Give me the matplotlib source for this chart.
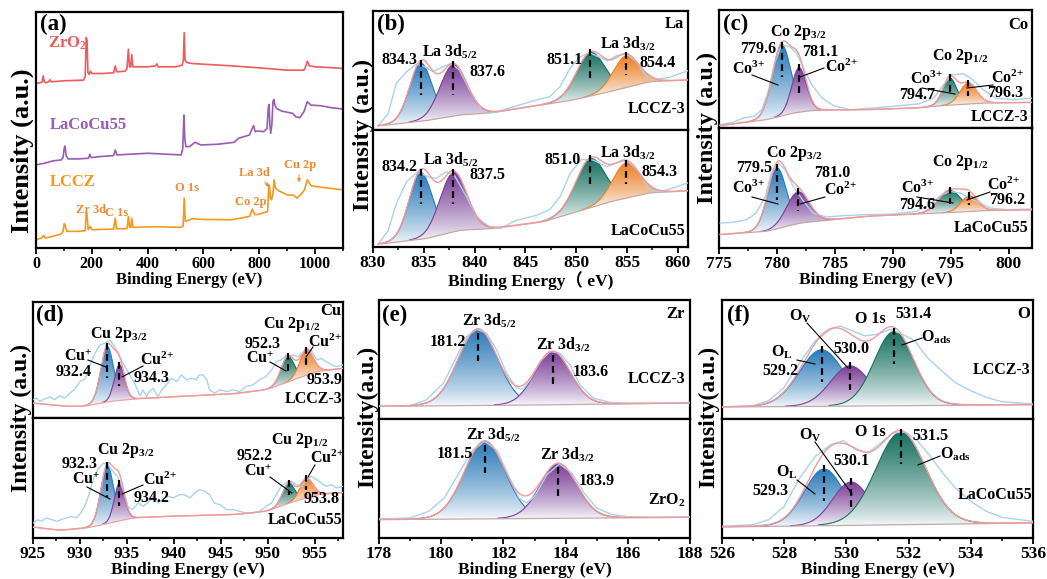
import numpy as np
import matplotlib
matplotlib.use('Agg')
import matplotlib.pyplot as plt
from matplotlib.colors import to_rgb
from matplotlib.patches import PathPatch, FancyArrowPatch
from matplotlib.path import Path
from matplotlib.lines import Line2D
from matplotlib.ticker import MultipleLocator

plt.rcParams['font.family'] = ['Liberation Serif', 'Noto Sans CJK SC', 'DejaVu Sans']
plt.rcParams['font.weight'] = 'bold'
plt.rcParams['mathtext.fontset'] = 'custom'
plt.rcParams['mathtext.rm'] = 'Liberation Serif:bold'
plt.rcParams['mathtext.it'] = 'Liberation Serif:italic:bold'
plt.rcParams['mathtext.bf'] = 'Liberation Serif:bold'

# ---------------- (a) survey data ----------------
a_x_zro2 = [0, 15, 22, 26, 30, 35, 45, 50, 55, 100, 170, 176, 180, 183, 186, 190, 195, 200, 240, 278,
            284, 289, 320, 326, 331, 335, 339, 343, 347, 400, 428, 433, 438, 500, 524, 528, 531, 534, 540, 560,
            600, 700, 800, 900, 960, 966, 972, 980, 1000, 1050, 1100]
a_y_zro2 = [495, 497, 500, 518, 500, 497, 500, 506, 500, 503, 505, 515, 633, 625, 528, 522, 532, 525, 525, 527,
            548, 530, 532, 540, 598, 545, 545, 582, 545, 545, 548, 554, 545, 545, 550, 565, 648, 565, 558, 555,
            553, 548, 542, 535, 535, 545, 562, 548, 545, 543, 540]
a_x_lacocu = [0, 30, 60, 90, 97, 101, 104, 108, 115, 150, 188, 193, 198, 230, 278, 284, 290, 400, 520, 526,
              530, 533, 537, 550, 570, 590, 650, 710, 725, 765, 775, 780, 785, 795, 815, 828, 832, 835, 838, 841,
              845, 849, 852, 856, 862, 880, 920, 930, 945, 960, 972, 985, 1020, 1060, 1100]
a_y_lacocu = [250, 255, 262, 265, 272, 300, 307, 278, 268, 268, 270, 282, 272, 275, 278, 295, 280, 285, 280, 300,
              400, 330, 305, 305, 318, 310, 312, 318, 330, 340, 360, 368, 350, 352, 350, 360, 420, 432, 370, 345,
              370, 440, 447, 430, 420, 412, 405, 395, 392, 410, 440, 430, 428, 422, 418]
a_x_lccz = [0, 20, 28, 33, 60, 90, 97, 101, 104, 110, 150, 176, 180, 183, 187, 195, 200, 278, 284, 289,
            326, 331, 335, 339, 343, 347, 430, 520, 527, 531, 535, 560, 600, 700, 720, 765, 775, 779, 785, 800,
            830, 834, 837, 840, 844, 849, 853, 858, 870, 900, 925, 935, 950, 962, 972, 985, 1000, 1050, 1100]
a_y_lccz = [25, 30, 38, 30, 35, 42, 50, 73, 70, 50, 50, 52, 105, 100, 55, 65, 55, 57, 90, 58,
            58, 95, 62, 62, 90, 62, 64, 62, 66, 150, 80, 88, 86, 85, 88, 95, 117, 108, 100, 102,
            110, 190, 185, 150, 145, 165, 205, 180, 172, 160, 158, 150, 162, 175, 205, 188, 185, 180, 175]

# ---------------- (b) La 3d ----------------
b1_bg_x = [830.5, 835.2, 838.5, 841.8, 845.1, 849.7, 853.3, 857.2, 861.0]
b1_bg_y = [12, 28, 45, 52, 68, 90, 115, 145, 150]
b1_pk_c = [834.7, 837.9, 851.4, 854.9]
b1_pk_h = [174, 154, 130, 95]
b1_pk_w = [2.6, 3.1, 3.3, 3.0]
b1_raw_x = [830.5, 831.5, 832.3, 833.3, 834.3, 835.1, 835.9, 836.9, 837.7, 838.5, 839.5, 840.5, 841.8, 842.8,
            844.4, 846.1, 847.4, 848.4, 849.4, 850.3, 851.3, 852.3, 853.1, 853.9, 854.9, 855.9, 856.9, 857.9,
            859.2, 861.0]
b1_raw_y = [12, 50, 140, 175, 198, 190, 175, 190, 200, 180, 120, 70, 52, 60, 75, 90, 100, 130, 185, 218,
            232, 218, 208, 222, 230, 205, 162, 152, 158, 178]
b2_bg_x = [830.5, 835.2, 838.5, 841.8, 846.7, 850.0, 853.3, 857.2, 861.0]
b2_bg_y = [8, 25, 50, 55, 75, 105, 135, 162, 168]
b2_pk_c = [834.7, 837.9, 851.4, 854.9]
b2_pk_h = [199, 177, 146, 105]
b2_pk_w = [2.7, 3.1, 3.4, 3.1]
b2_raw_x = [830.5, 831.5, 832.3, 833.3, 834.4, 835.4, 836.2, 837.2, 838.0, 839.2, 840.2, 841.5, 842.5, 844.1,
            846.1, 847.4, 848.4, 849.4, 850.5, 851.7, 853.0, 854.0, 855.0, 856.3, 857.2, 858.2, 859.9, 861.0]
b2_raw_y = [7, 50, 130, 195, 225, 210, 205, 225, 215, 150, 90, 60, 55, 80, 95, 112, 150, 220, 262, 260,
            240, 252, 260, 220, 170, 165, 180, 192]

# ---------------- (c) Co 2p ----------------
c1_bg_x = [775.1, 779.1, 781.4, 783.1, 787.7, 792.0, 794.1, 797.8, 802.0]
c1_bg_y = [7, 25, 45, 53, 55, 60, 67, 75, 77]
c1_pk_c = [780.4, 781.9, 794.9, 796.5]
c1_pk_h = [213, 134, 82, 63]
c1_pk_w = [1.9, 1.5, 1.4, 1.7]
c1_raw_x = [775.1, 776.2, 777.1, 778.0, 778.7, 779.3, 779.8, 780.4, 781.1, 781.7, 782.3, 783.0, 783.9, 784.9,
            786.3, 788.3, 790.6, 792.3, 793.5, 794.3, 795.1, 796.1, 796.9, 797.8, 798.9, 800.4, 802.0]
c1_raw_y = [10, 17, 30, 35, 55, 115, 195, 250, 245, 225, 180, 130, 90, 67, 55, 60, 67, 73, 90, 127,
            160, 163, 145, 115, 90, 85, 90]
c2_bg_x = [775.1, 779.1, 782.0, 787.7, 794.1, 797.8, 802.0]
c2_bg_y = [40, 50, 75, 95, 105, 112, 115]
c2_pk_c = [780.0, 781.8, 794.9, 796.6]
c2_pk_h = [182, 95, 66, 47]
c2_pk_w = [1.9, 2.3, 2.3, 1.7]
c2_raw_x = [775.1, 776.2, 777.4, 778.2, 779.0, 779.5, 780.1, 780.7, 781.4, 782.3, 783.1, 784.3, 785.7, 787.7,
            790.0, 792.0, 793.2, 794.1, 794.9, 795.8, 796.6, 797.5, 798.4, 799.8, 802.0]
c2_raw_y = [75, 77, 85, 105, 155, 225, 255, 235, 185, 140, 105, 93, 97, 100, 102, 110, 130, 157, 170, 165,
            150, 135, 120, 115, 117]

# ---------------- (d) Cu 2p ----------------
d1_bg_x = [925.0, 928.5, 930.3, 933.2, 935.6, 939.2, 946.3, 949.8, 952.7, 955.2, 958.0]
d1_bg_y = [45, 35, 35, 50, 57, 63, 73, 85, 115, 140, 150]
d1_pk_c = [932.9, 934.2, 952.1, 954.1]
d1_pk_h = [167, 107, 77, 76]
d1_pk_w = [1.6, 1.3, 1.6, 1.7]
d1_raw_x = [925.0, 925.4, 925.7, 926.2, 926.8, 927.3, 927.8, 928.4, 928.9, 929.4,
            930.0, 930.5, 930.9, 931.2, 931.6, 932.1, 932.6, 933.2, 933.7, 934.2,
            934.8, 935.3, 935.8, 936.4, 936.7, 937.1, 937.4, 937.8, 938.3, 938.7,
            939.2, 939.7, 940.3, 940.8, 941.3, 941.9, 942.4, 942.7, 943.1, 943.5,
            943.8, 944.3, 944.9, 945.6, 946.3, 947.0, 947.7, 948.4, 949.1, 949.8,
            950.4, 950.9, 951.4, 952.0, 952.3, 952.7, 953.2, 953.7, 954.1, 954.6,
            955.0, 955.3, 955.7, 956.2, 956.8, 957.3, 958.0]
d1_raw_y = [55, 60, 50, 57, 63, 55, 67, 60, 75, 85,
            110, 117, 145, 170, 195, 220, 225, 235, 215, 185,
            155, 130, 105, 67, 85, 65, 80, 90, 65, 85,
            100, 120, 110, 130, 115, 120, 115, 130, 130, 115,
            85, 75, 85, 80, 85, 80, 95, 100, 115, 125,
            145, 170, 175, 190, 185, 190, 185, 195, 210, 205,
            185, 175, 180, 170, 160, 155, 160]
d2_bg_x = [925.0, 927.8, 930.7, 933.2, 935.6, 939.2, 946.3, 949.8, 952.3, 955.2, 958.0]
d2_bg_y = [33, 23, 30, 45, 60, 65, 70, 80, 105, 130, 137]
d2_pk_c = [932.9, 934.2, 952.2, 954.1]
d2_pk_h = [173, 113, 60, 58]
d2_pk_w = [1.6, 1.3, 1.5, 1.6]
d2_raw_x = [925.0, 925.5, 925.9, 926.4, 927.0, 927.5, 928.0, 928.5, 929.1, 929.6,
            930.1, 930.5, 930.9, 931.4, 931.9, 932.5, 933.0, 933.5, 934.0, 934.6,
            935.1, 935.6, 936.2, 936.7, 937.2, 937.8, 938.3, 938.8, 939.4, 939.9,
            940.6, 941.1, 941.7, 942.2, 942.7, 943.3, 943.8, 944.3, 944.9, 945.6,
            946.3, 947.0, 947.7, 948.4, 949.1, 949.8, 950.4, 950.9, 951.4, 952.0,
            952.5, 953.0, 953.6, 954.1, 954.6, 955.2, 955.7, 956.2, 956.8, 957.3, 958.0]
d2_raw_y = [45, 55, 50, 60, 55, 50, 55, 60, 65, 60,
            75, 95, 125, 175, 205, 225, 220, 200, 185, 145,
            95, 85, 105, 95, 105, 125, 105, 115, 125, 120,
            130, 130, 120, 135, 145, 140, 130, 105, 100, 85,
            85, 80, 75, 75, 80, 95, 105, 130, 155, 167,
            170, 160, 155, 175, 185, 175, 165, 155, 160, 150, 155]

# ---------------- (e) Zr 3d ----------------
e1_bg_x = [178.0, 183.0, 188.0]
e1_bg_y = [38, 42, 48]
e1_pk_c = [181.18, 183.58]
e1_pk_h = [230, 160]
e1_pk_w = [1.5, 1.35]
e1_raw_x = [178.0, 179.0, 179.53, 180.07, 180.5, 180.82, 181.14, 181.46, 181.78, 182.1, 182.43, 182.64,
            182.86, 183.18, 183.5, 183.82, 184.14, 184.46, 184.89, 185.43, 185.96, 187.04, 188.0]
e1_raw_y = [38, 40, 58, 108, 188, 248, 270, 258, 208, 138, 93, 90, 118, 173, 203, 198, 163, 103, 63, 50,
            48, 48, 50]
e2_bg_x = [178.0, 188.0]
e2_bg_y = [55, 62]
e2_pk_c = [181.4, 183.77]
e2_pk_h = [233, 164]
e2_pk_w = [1.55, 1.4]
e2_raw_x = [178.0, 179.0, 179.6, 180.1, 180.6, 181.0, 181.4, 181.8, 182.2, 182.5, 182.75, 183.0, 183.4,
            183.8, 184.2, 184.6, 185.0, 185.5, 186.0, 187.0, 188.0]
e2_raw_y = [57, 60, 80, 120, 200, 262, 290, 262, 180, 120, 105, 125, 190, 222, 195, 135, 90, 70, 64, 62, 63]

# ---------------- (f) O 1s ----------------
f1_bg_x = [526.0, 536.0]
f1_bg_y = [36, 43]
f1_pk_c = [529.2, 530.12, 531.53]
f1_pk_h = [170, 121, 223]
f1_pk_w = [1.7, 1.5, 1.5]
f1_raw_x = [526.0, 527.0, 527.5, 528.0, 528.5, 529.0, 529.5, 529.8, 530.2, 530.6, 531.0, 531.4, 531.8,
            532.2, 532.6, 533.0, 533.5, 534.0, 534.5, 535.0, 536.0]
f1_raw_y = [36, 40, 55, 95, 170, 235, 270, 280, 265, 250, 255, 270, 255, 235, 185, 150, 110, 85, 65, 52, 45]
f2_bg_x = [526.0, 536.0]
f2_bg_y = [33, 45]
f2_pk_c = [529.28, 530.15, 531.75]
f2_pk_h = [170, 130, 277]
f2_pk_w = [1.5, 1.4, 1.9]
f2_raw_x = [526.0, 527.0, 527.5, 528.0, 528.5, 529.0, 529.5, 529.9, 530.3, 530.7, 531.1, 531.5, 531.9,
            532.3, 532.7, 533.1, 533.5, 534.0, 534.5, 535.0, 536.0]
f2_raw_y = [35, 40, 55, 95, 180, 245, 280, 292, 265, 255, 285, 315, 318, 290, 245, 195, 150, 110, 80, 62, 50]

# ---------------- styles ----------------
BLUE, PURPLE, TEAL, ORANGE = '#2a7ab8', '#7a3e97', '#17705f', '#ef7f22'
RAW_C, ENV_C, BG_C = '#a9d2ef', '#f29a9a', '#c4a8a8'
RED_A, PUR_A, ORG_A, ORG_T = '#ef5b5b', '#9a5bb5', '#f5981f', '#f08a30'

W, H = 1047, 579
fig = plt.figure(figsize=(W / 100, H / 100), dpi=100)


def add_ax(l, t, r, b):
    ax = fig.add_axes([l / W, 1 - b / H, (r - l) / W, (b - t) / H])
    for s in ax.spines.values():
        s.set_linewidth(1.6)
    ax.set_yticks([])
    return ax


def T(x, y, s, ha='center', va='center', size=11.5, color='black', **kw):
    fig.text(x / W, 1 - y / H, s, ha=ha, va=va, fontsize=size, fontweight='bold', color=color, **kw)


def L(x1, y1, x2, y2, color='black', lw=0.8):
    fig.add_artist(Line2D([x1 / W, x2 / W], [1 - y1 / H, 1 - y2 / H], transform=fig.transFigure,
                          color=color, lw=lw))


def peak(x, c, h, w, eta=0.05):
    g = np.exp(-4 * np.log(2) * ((x - c) / w) ** 2)
    lo = 1 / (1 + 4 * ((x - c) / w) ** 2)
    return h * ((1 - eta) * g + eta * lo)


def smooth(y, n=41):
    p = np.pad(y, n // 2, mode='edge')
    return np.convolve(p, np.ones(n) / n, mode='valid')


def grad_fill(ax, x, yb, yt, color, z):
    verts = np.vstack([np.column_stack([x, yt]), np.column_stack([x[::-1], yb[::-1]])])
    patch = PathPatch(Path(verts), facecolor='none', edgecolor='none', transform=ax.transData)
    ax.add_patch(patch)
    c = np.array(to_rgb(color))
    wcol = np.array([0.975, 0.982, 0.99])
    t = np.linspace(0, 1, 256)[:, None] ** 0.8
    img = (wcol + (c - wcol) * t)[:, None, :]
    im = ax.imshow(img, extent=[x.min(), x.max(), yb.min(), yt.max()], origin='lower',
                   aspect='auto', zorder=z, interpolation='bilinear')
    im.set_clip_path(patch)


def draw_sub(ax, xlim, ylim, bgx, bgy, pc, ph, pw, cols, rawx, rawy, bgcol=BG_C, bottom=True,
             major=5, minor=2.5, dash_up=0.03):
    x = np.linspace(bgx[0], bgx[-1], 1200)
    bg = smooth(np.interp(x, bgx, bgy))
    total = bg.copy()
    R = ylim[1] - ylim[0]
    for k, (c, h, w, col) in enumerate(zip(pc, ph, pw, cols)):
        p = peak(x, c, h, w)
        total = total + p
        m = p > 0.01 * h
        grad_fill(ax, x[m], bg[m], (bg + p)[m], col, 2 + k)
        ax.plot(x[m], (bg + p)[m], color=col, lw=0.8, zorder=2 + k)
    ax.plot(x, bg, color=bgcol, lw=0.9, zorder=7)
    ax.plot(rawx, rawy, color=RAW_C, lw=1.0, zorder=8)
    ax.plot(x, total, color=ENV_C, lw=1.0, zorder=9)
    for c, h in zip(pc, ph):
        top = np.interp(c, x, bg) + h
        ax.plot([c, c], [top + dash_up * R, top - min(0.27 * R, 0.6 * h)], color='black', lw=1.6,
                dashes=(3, 2), zorder=10, solid_capstyle='butt')
    ax.set_xlim(*xlim)
    ax.set_ylim(*ylim)
    ax.xaxis.set_major_locator(MultipleLocator(major))
    ax.xaxis.set_minor_locator(MultipleLocator(minor))
    if bottom:
        ax.tick_params(axis='x', which='major', direction='out', length=4, width=1.3,
                       labelsize=12.5, pad=2)
        ax.tick_params(axis='x', which='minor', direction='out', length=2.5, width=1.1)
    else:
        ax.tick_params(axis='x', which='both', bottom=False, labelbottom=False)


# ================= (a) =================
ax = add_ax(36, 12, 343, 248)
ax.plot(a_x_zro2, a_y_zro2, color=RED_A, lw=1.2)
ax.plot(a_x_lacocu, a_y_lacocu, color=PUR_A, lw=1.2)
ax.plot(a_x_lccz, a_y_lccz, color=ORG_A, lw=1.2)
ax.set_xlim(0, 1100)
ax.set_ylim(0, 710)
ax.xaxis.set_major_locator(MultipleLocator(200))
ax.xaxis.set_minor_locator(MultipleLocator(100))
ax.tick_params(axis='x', which='major', direction='out', length=4, width=1.3, labelsize=11.5, pad=2)
ax.tick_params(axis='x', which='minor', direction='out', length=2.5, width=1.1)
ax.set_xlabel('Binding Energy (eV)', fontsize=12, fontweight='bold', labelpad=0)
T(22, 151, 'Intensity (a.u.)', size=19, rotation=90)
T(40, 24, '(a)', ha='left', size=16.5)
T(48, 43, 'ZrO$_2$', ha='left', size=12, color=RED_A)
T(50, 125, 'LaCoCu55', ha='left', size=12, color=PUR_A)
T(50, 182, 'LCCZ', ha='left', size=12, color=ORG_A)
T(187, 188, 'O 1s', size=9, color=ORG_T)
T(91, 210, 'Zr 3d', size=9, color=ORG_T)
T(117, 213, 'C 1s', size=9, color=ORG_T)
T(251, 202, 'Co 2p', size=9, color=ORG_T)
T(254, 173, 'La 3d', size=9, color=ORG_T)
T(300, 165, 'Cu 2p', size=9, color=ORG_T)
for (p1, p2) in [((263, 180), (271, 189)), ((299, 172), (299, 185))]:
    fig.add_artist(FancyArrowPatch((p1[0] / W, 1 - p1[1] / H), (p2[0] / W, 1 - p2[1] / H),
                                   transform=fig.transFigure, arrowstyle='-|>', mutation_scale=5,
                                   color=ORG_T, lw=0.7))

# ================= (b) =================
cols4 = [BLUE, PURPLE, TEAL, ORANGE]
ax = add_ax(373, 11, 688, 130)
draw_sub(ax, (830, 861), (0, 357), b1_bg_x, b1_bg_y, b1_pk_c, b1_pk_h, b1_pk_w, cols4,
         b1_raw_x, b1_raw_y, bottom=False)
ax = add_ax(373, 130, 688, 247)
draw_sub(ax, (830, 861), (0, 350), b2_bg_x, b2_bg_y, b2_pk_c, b2_pk_h, b2_pk_w, cols4,
         b2_raw_x, b2_raw_y)
ax.set_xlabel('Binding Energy\uff08 eV)', fontsize=12.5, fontweight='bold', labelpad=0)
T(363, 135, 'Intensity (a.u.)', size=17.5, rotation=90)
T(377, 24, '(b)', ha='left', size=16.5)
T(684, 24, 'La', ha='right', size=12)
T(399, 60, '834.3'); T(450, 52, 'La 3d$_{5/2}$'); T(488, 72, '837.6')
T(565, 60, '851.1'); T(628, 44, 'La 3d$_{3/2}$'); T(658, 63, '854.4')
T(685, 109, 'LCCZ-3', ha='right')
T(399, 167, '834.2'); T(451, 160, 'La 3d$_{5/2}$'); T(488, 175, '837.5')
T(563, 160, '851.0'); T(628, 153, 'La 3d$_{3/2}$'); T(659, 172, '854.3')
T(685, 231, 'LaCoCu55', ha='right')

# ================= (c) =================
ax = add_ax(719, 10, 1032, 128)
draw_sub(ax, (775, 802), (0, 355), c1_bg_x, c1_bg_y, c1_pk_c, c1_pk_h, c1_pk_w, cols4,
         c1_raw_x, c1_raw_y, bottom=False)
ax = add_ax(719, 128, 1032, 248)
draw_sub(ax, (775, 802), (0, 360), c2_bg_x, c2_bg_y, c2_pk_c, c2_pk_h, c2_pk_w, cols4,
         c2_raw_x, c2_raw_y)
ax.set_xlabel('Binding Energy (eV)', fontsize=12.5, fontweight='bold', labelpad=0)
T(707, 128, 'Intensity (a.u.)', size=17.5, rotation=90)
T(723, 24, '(c)', ha='left', size=16.5)
T(1028, 25, 'Co', ha='right', size=12)
T(798, 32, 'Co 2p$_{3/2}$'); T(758, 49, '779.6'); T(820, 52, '781.1')
T(748, 69, 'Co$^{3{+}}$'); L(752, 75, 778, 85)
T(841, 67, 'Co$^{2{+}}$'); L(824, 68, 800, 77)
T(960, 57, 'Co 2p$_{1/2}$')
T(926, 79, 'Co$^{3{+}}$'); L(922, 88, 955, 94); T(917, 95, '794.7')
T(1007, 78, 'Co$^{2{+}}$'); L(993, 85, 967, 88); T(1005, 93, '796.3')
T(1028, 117, 'LCCZ-3', ha='right')
T(794, 153, 'Co 2p$_{3/2}$'); T(754, 168, '779.5'); T(832, 173, '781.0')
T(748, 188, 'Co$^{3{+}}$'); L(752, 197, 778, 204)
T(840, 190, 'Co$^{2{+}}$'); L(825, 197, 800, 204)
T(960, 163, 'Co 2p$_{1/2}$')
T(917, 188, 'Co$^{3{+}}$'); L(917, 197, 953, 203); T(917, 205, '794.6')
T(1003, 185, 'Co$^{2{+}}$'); L(990, 192, 967, 200); T(1007, 200, '796.2')
T(1028, 228, 'LaCoCu55', ha='right')

# ================= (d) =================
ax = add_ax(33, 302, 343, 418)
draw_sub(ax, (925, 958), (0, 350), d1_bg_x, d1_bg_y, d1_pk_c, d1_pk_h, d1_pk_w, cols4,
         d1_raw_x, d1_raw_y, bgcol='#eea3a3', bottom=False)
ax = add_ax(33, 418, 343, 538)
draw_sub(ax, (925, 958), (0, 360), d2_bg_x, d2_bg_y, d2_pk_c, d2_pk_h, d2_pk_w, cols4,
         d2_raw_x, d2_raw_y, bgcol='#eea3a3')
ax.set_xlabel('Binding Energy (eV)', fontsize=12.5, fontweight='bold', labelpad=0)
T(21, 418, 'Intensity (a.u.)', size=17, rotation=90)
T(36, 315, '(d)', ha='left', size=16.5)
T(341, 311, 'Cu', ha='right', size=12)
T(119, 335, 'Cu 2p$_{3/2}$')
T(78, 357, 'Cu$^{{+}}$'); L(88, 360, 106, 367); T(74, 372, '932.4')
T(157, 360, 'Cu$^{2{+}}$'); L(143, 366, 122, 377); T(152, 378, '934.3')
T(292, 324, 'Cu 2p$_{1/2}$'); T(263, 344, '952.3')
T(260, 359, 'Cu$^{{+}}$'); L(270, 362, 286, 371)
T(325, 342, 'Cu$^{2{+}}$'); L(313, 347, 306, 357)
T(325, 380, '953.9'); T(342, 399, 'LCCZ-3', ha='right')
T(126, 451, 'Cu 2p$_{3/2}$'); T(80, 464, '932.3')
T(86, 480, 'Cu$^{{+}}$'); L(87, 487, 110, 499)
T(160, 480, 'Cu$^{2{+}}$'); L(143, 485, 122, 494); T(152, 498, '934.2')
T(300, 440, 'Cu 2p$_{1/2}$'); T(255, 456, '952.2')
T(258, 472, 'Cu$^{{+}}$'); L(270, 477, 292, 493)
T(327, 458, 'Cu$^{2{+}}$'); L(315, 465, 308, 477)
T(322, 499, '953.8'); T(342, 520, 'LaCoCu55', ha='right')

# ================= (e) =================
cols2 = [BLUE, PURPLE]
ax = add_ax(379, 300, 690, 419)
draw_sub(ax, (178, 188), (0, 358), e1_bg_x, e1_bg_y, e1_pk_c, e1_pk_h, e1_pk_w, cols2,
         e1_raw_x, e1_raw_y, bottom=False, major=2, minor=1, dash_up=-0.03)
ax = add_ax(379, 419, 690, 538)
draw_sub(ax, (178, 188), (0, 357), e2_bg_x, e2_bg_y, e2_pk_c, e2_pk_h, e2_pk_w, cols2,
         e2_raw_x, e2_raw_y, major=2, minor=1, dash_up=-0.03)
ax.set_xlabel('Binding Energy (eV)', fontsize=12.5, fontweight='bold', labelpad=0)
T(368, 417, 'Intensity(a.u.)', size=17, rotation=90)
T(382, 315, '(e)', ha='left', size=16.5)
T(685, 314, 'Zr', ha='right', size=12)
T(489, 321, 'Zr 3d$_{5/2}$'); T(448, 342, '181.2')
T(563, 345, 'Zr 3d$_{3/2}$'); T(591, 372, '183.6')
T(685, 379, 'LCCZ-3', ha='right')
T(493, 435, 'Zr 3d$_{5/2}$'); T(455, 454, '181.5')
T(567, 455, 'Zr 3d$_{3/2}$'); T(597, 481, '183.9')
T(685, 500, 'ZrO$_2$', ha='right')

# ================= (f) =================
cols3 = [BLUE, PURPLE, TEAL]
ax = add_ax(722, 300, 1033, 419)
draw_sub(ax, (526, 536), (0, 358), f1_bg_x, f1_bg_y, f1_pk_c, f1_pk_h, f1_pk_w, cols3,
         f1_raw_x, f1_raw_y, bottom=False, major=2, minor=1)
ax = add_ax(722, 419, 1033, 538)
draw_sub(ax, (526, 536), (0, 357), f2_bg_x, f2_bg_y, f2_pk_c, f2_pk_h, f2_pk_w, cols3,
         f2_raw_x, f2_raw_y, major=2, minor=1)
ax.set_xlabel('Binding Energy (eV)', fontsize=12.5, fontweight='bold', labelpad=0)
T(709, 417, 'Intensity(a.u.)', size=17, rotation=90)
T(727, 315, '(f)', ha='left', size=16.5)
T(1030, 314, 'O', ha='right', size=12)
T(800, 316, 'O$_{\\mathrm{V}}$'); L(807, 323, 848, 368)
T(870, 319, 'O 1s'); T(913, 314, '531.4')
T(936, 337, 'O$_{\\mathrm{ads}}$'); L(922, 338, 902, 345)
T(782, 352, 'O$_{\\mathrm{L}}$'); L(797, 360, 815, 364)
T(851, 349, '530.0'); T(780, 371, '529.2')
T(1030, 370, 'LCCZ-3', ha='right')
T(870, 432, 'O 1s'); T(810, 435, 'O$_{\\mathrm{V}}$'); L(815, 442, 852, 494)
T(930, 436, '531.5'); T(955, 454, 'O$_{\\mathrm{ads}}$'); L(940, 456, 918, 465)
T(787, 472, 'O$_{\\mathrm{L}}$'); L(797, 480, 815, 494)
T(851, 461, '530.1'); T(770, 491, '529.3')
T(1032, 495, 'LaCoCu55', ha='right')

fig.savefig('out.png', dpi=100)
